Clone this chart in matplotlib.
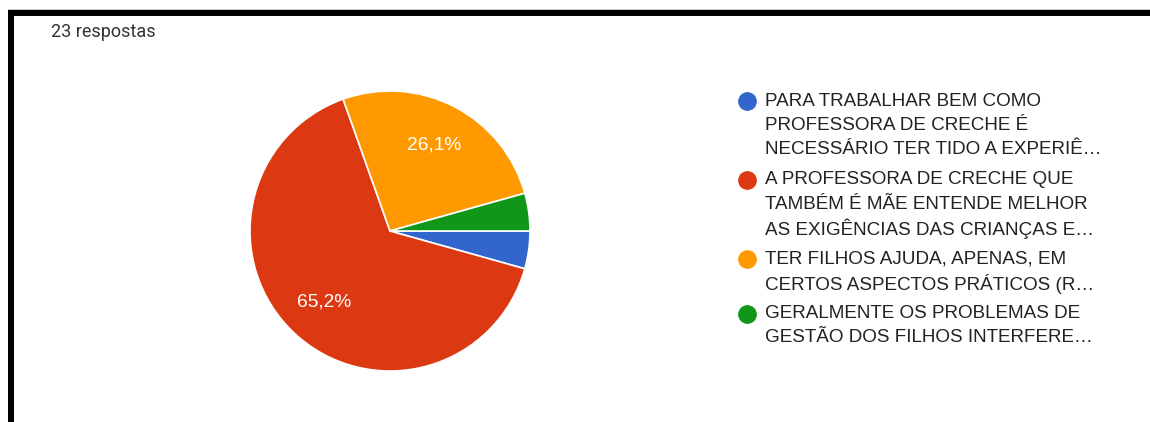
import matplotlib
matplotlib.use("Agg")
import matplotlib.pyplot as plt
from matplotlib.patches import Rectangle
from matplotlib.lines import Line2D

# Survey answers (23 responses)
counts = [1, 15, 6, 1]
colors = ["#3366cc", "#dc3912", "#ff9900", "#109618"]
legend_lines = [
    ["PARA TRABALHAR BEM COMO", "PROFESSORA DE CRECHE É", "NECESSÁRIO TER TIDO A EXPERIÊ…"],
    ["A PROFESSORA DE CRECHE QUE", "TAMBÉM É MÃE ENTENDE MELHOR", "AS EXIGÊNCIAS DAS CRIANÇAS E…"],
    ["TER FILHOS AJUDA, APENAS, EM", "CERTOS ASPECTOS PRÁTICOS (R…"],
    ["GERALMENTE OS PROBLEMAS DE", "GESTÃO DOS FILHOS INTERFERE…"],
]
subtitle = "23 respostas"

W, H = 1150, 422
fig = plt.figure(figsize=(W / 100, H / 100), dpi=100)
fig.patch.set_facecolor("white")


def fx(px):
    return px / W


def fy(py):
    return 1 - py / H


# Frame edges (top and left)
fig.add_artist(Rectangle((fx(8), fy(10)), 1 - fx(8), 1.0 / H, transform=fig.transFigure,
                         color="#c8c8c8", lw=0))
fig.add_artist(Rectangle((fx(8), fy(16)), 1 - fx(8), fy(10) - fy(16), transform=fig.transFigure,
                         color="black", lw=0))
fig.add_artist(Rectangle((fx(8), 0), fx(13.5) - fx(8), fy(10), transform=fig.transFigure,
                         color="black", lw=0))

fig.text(fx(51), fy(32), subtitle, fontsize=13.0, color="#333333", family="Roboto",
         va="center", ha="left")

# Pie
cx, cy, r = 390, 231, 140
ax = fig.add_axes([fx(cx - r), fy(cy + r), (2 * r) / W, (2 * r) / H])


def pct_label(p):
    return ("%.1f%%" % p).replace(".", ",") if p > 5 else ""


wedges, _, autotexts = ax.pie(
    counts, colors=colors, startangle=0, counterclock=False,
    autopct=pct_label, pctdistance=0.69,
    wedgeprops=dict(edgecolor="white", linewidth=1.2),
    textprops=dict(color="white", fontsize=13.8, family="Liberation Sans"),
)
ax.set_xlim(-1.0, 1.0)
ax.set_ylim(-1.0, 1.0)
ax.set_aspect("equal")
ax.axis("off")

# Legend
y = 101
for color, lines in zip(colors, legend_lines):
    fig.add_artist(Line2D([fx(747)], [fy(y)], transform=fig.transFigure, marker="o",
                          markersize=13.5, color=color, markeredgewidth=0, linestyle="none"))
    for i, line in enumerate(lines):
        fig.text(fx(765), fy(y + i * 24.5), line, fontsize=13.6, color="#222222",
                 family="Liberation Sans", va="center", ha="left")
    y += (len(lines) - 1) * 24.5 + 30

fig.savefig("out.png", dpi=100, facecolor="white")
